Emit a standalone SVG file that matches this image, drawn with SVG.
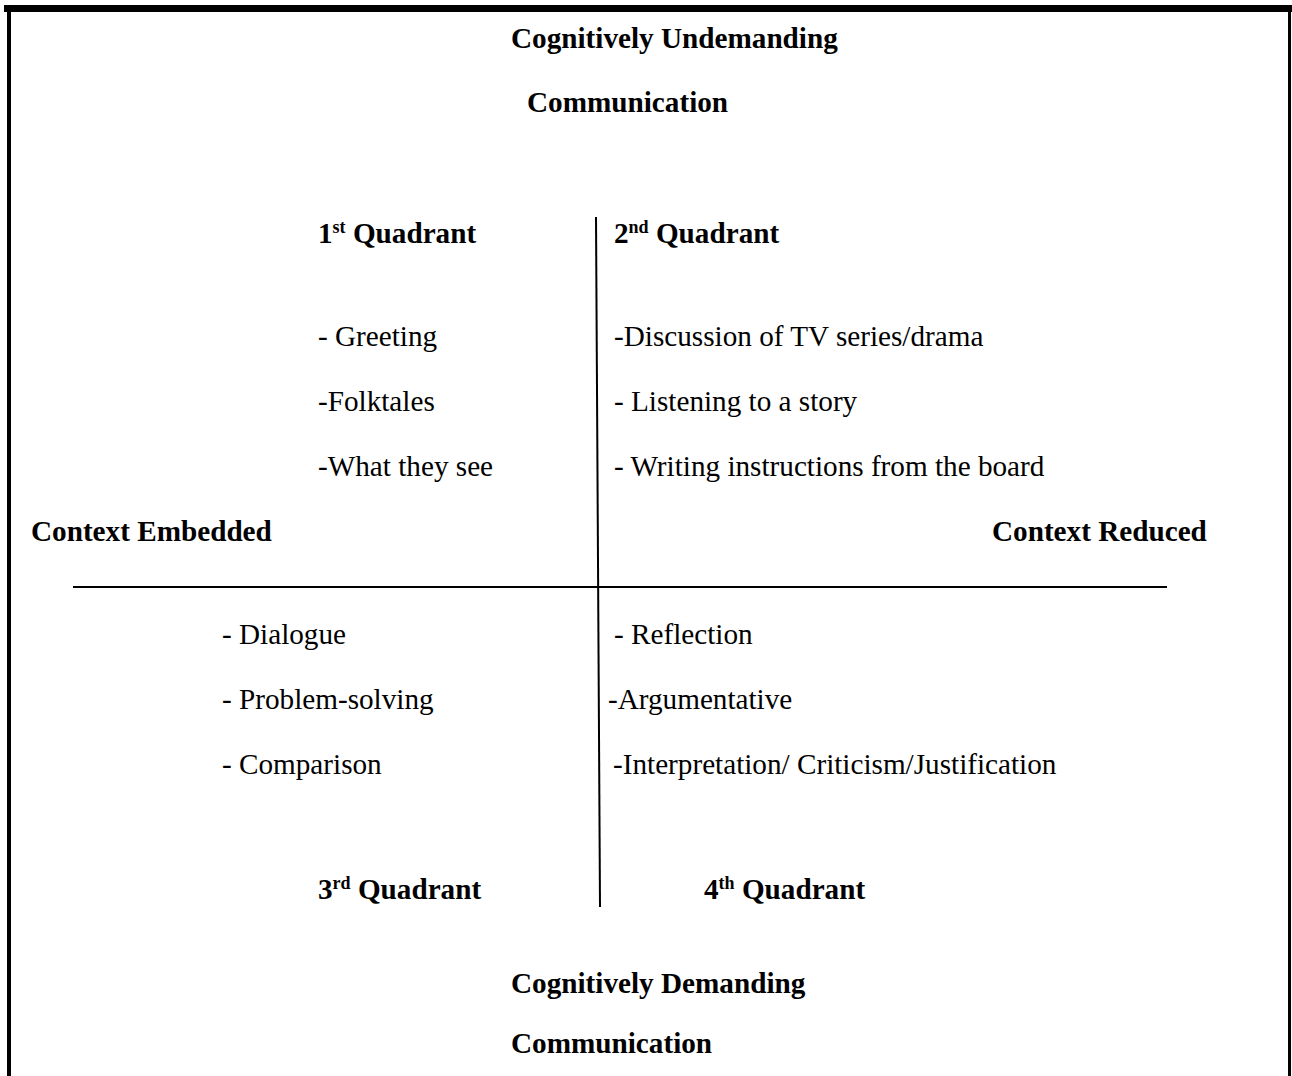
<svg xmlns="http://www.w3.org/2000/svg" width="1292" height="1076" viewBox="0 0 1292 1076">
<style>
text{font-family:"Liberation Serif","Times New Roman",serif;font-size:29.2px;fill:#000}
.b{font-weight:bold}
.sup{font-size:18px}
.ax{stroke:#000;stroke-width:2;fill:none}
</style>
<rect width="1292" height="1076" fill="#fff"/>
<g id="frame">
<line x1="4" y1="8.5" x2="1292" y2="8.5" stroke="#000" stroke-width="7"/>
<line x1="9" y1="5" x2="9" y2="1076" stroke="#000" stroke-width="4"/>
<line x1="1289.5" y1="5" x2="1289.5" y2="1076" stroke="#000" stroke-width="3"/>
</g>
<g id="connectors">
<line class="ax" x1="596" y1="217" x2="600" y2="907"/>
<line class="ax" x1="73" y1="587" x2="1167" y2="587"/>
</g>
<g id="top-label"><text class="b" x="511" y="48">Cognitively Undemanding</text><text class="b" x="527" y="112">Communication</text></g>
<g id="bottom-label"><text class="b" x="511" y="993">Cognitively Demanding</text><text class="b" x="511" y="1053">Communication</text></g>
<g id="left-label"><text class="b" x="31" y="541">Context Embedded</text></g>
<g id="right-label"><text class="b" x="992" y="541">Context Reduced</text></g>
<g id="q1">
<text class="b" x="318" y="243">1<tspan class="sup" dy="-10">st</tspan><tspan dy="10"> Quadrant</tspan></text>
<text x="318" y="346">- Greeting</text>
<text x="318" y="411">-Folktales</text>
<text x="318" y="476">-What they see</text>
</g>
<g id="q2">
<text class="b" x="614" y="243">2<tspan class="sup" dy="-10">nd</tspan><tspan dy="10"> Quadrant</tspan></text>
<text x="614" y="346">-Discussion of TV series/drama</text>
<text x="614" y="411">- Listening to a story</text>
<text x="614" y="476">- Writing instructions from the board</text>
</g>
<g id="q3">
<text x="222" y="644">- Dialogue</text>
<text x="222" y="709">- Problem-solving</text>
<text x="222" y="774">- Comparison</text>
<text class="b" x="318" y="899">3<tspan class="sup" dy="-10">rd</tspan><tspan dy="10"> Quadrant</tspan></text>
</g>
<g id="q4">
<text x="614" y="644">- Reflection</text>
<text x="608" y="709">-Argumentative</text>
<text x="613" y="774">-Interpretation/ Criticism/Justification</text>
<text class="b" x="704" y="899">4<tspan class="sup" dy="-10">th</tspan><tspan dy="10"> Quadrant</tspan></text>
</g>
</svg>
